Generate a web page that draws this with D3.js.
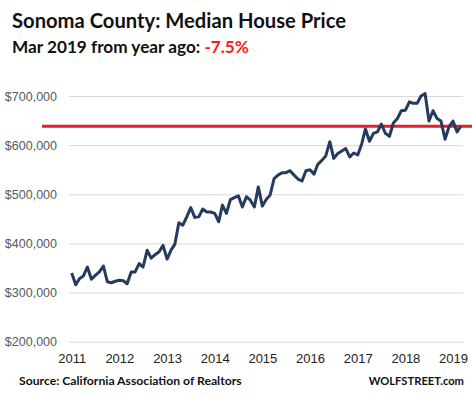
<!DOCTYPE html>
<html>
<head>
<meta charset="utf-8">
<script src="https://cdn.jsdelivr.net/npm/d3@7"></script>
<style>
  body { margin: 0; background: #fff; }
  svg { display: block; font-family: Lato, "Liberation Sans", sans-serif; }
</style>
</head>
<body>
<svg></svg>
<script>
// monthly median price, Jan 2011 .. Mar 2019 (in $1000s)
var startYear = 2011;
var prices = [
  340, 316, 328, 334, 352, 327, 335, 342, 354, 322, 320, 323,   // 2011
  325, 324, 318, 342, 342, 359, 352, 386, 370, 377, 383, 396,   // 2012
  368, 387, 398, 442, 437, 454, 473, 453, 454, 470, 464, 464,   // 2013
  461, 444, 478, 461, 489, 493, 497, 474, 495, 488, 474, 515,   // 2014
  476, 490, 498, 532, 539, 544, 544, 548, 539, 531, 527, 548,   // 2015
  550, 541, 561, 569, 578, 607, 573, 583, 588, 593, 576, 584,   // 2016
  580, 603, 633, 608, 624, 627, 643, 624, 618, 645, 654, 670,   // 2017
  671, 688, 685, 685, 700, 705, 649, 670, 654, 649, 612, 637,   // 2018
  649, 627, 638                                                 // 2019
];
var yTicks = [200000, 300000, 400000, 500000, 600000, 700000];
var xTickYears = [2011, 2012, 2013, 2014, 2015, 2016, 2017, 2018, 2019];
var latestPrice = 638400; // Mar 2019 level, the red line

var svgWidth = 472, svgHeight = 396;
var plotLeft = 69, plotRight = 463, plotTop = 96, plotBottom = 341.7;

var svg = d3.select("svg")
    .attr("width", svgWidth)
    .attr("height", svgHeight);

var data = prices.map(function(p, i) {
    return { date: new Date(startYear, i, 1), value: p * 1000 };
});

// first data point sits right on the 2011 label
var x = d3.scaleTime()
    .domain([new Date(2011, 0, 1), new Date(2019, 0, 1)])
    .range([71.7, 453]);

var y = d3.scaleLinear()
    .domain([200000, 700000])
    .range([plotBottom, plotTop]);

// y axis + gridlines in one go
var yAxis = svg.append("g")
    .attr("transform", "translate(" + plotLeft + ",0)")
    .call(d3.axisLeft(y)
        .tickValues(yTicks)
        .tickFormat(d3.format("$,"))
        .tickSize(-(plotRight - plotLeft))
        .tickPadding(12));
yAxis.select(".domain").remove();
yAxis.selectAll(".tick line").attr("stroke", "#d9d9d9");
yAxis.selectAll(".tick text")
    .attr("fill", "#595959")
    .style("font-size", "12.5px");

var xAxis = svg.append("g")
    .attr("transform", "translate(0," + plotBottom + ")")
    .call(d3.axisBottom(x)
        .tickValues(xTickYears.map(function(yr) { return new Date(yr, 0, 1); }))
        .tickFormat(d3.timeFormat("%Y"))
        .tickSize(0)
        .tickPadding(12));
xAxis.select(".domain").remove();
xAxis.selectAll(".tick text")
    .attr("fill", "#222")
    .style("font-size", "13px");

// red line = current level, runs past the axis on the left
svg.append("line")
    .attr("x1", 42)
    .attr("x2", svgWidth)
    .attr("y1", y(latestPrice))
    .attr("y2", y(latestPrice))
    .attr("stroke", "#e3202a")
    .attr("stroke-width", 3);

var line = d3.line()
    .x(function(d) { return x(d.date); })
    .y(function(d) { return y(d.value); });

svg.append("path")
    .datum(data)
    .attr("d", line)
    .attr("fill", "none")
    .attr("stroke", "#243b5e")
    .attr("stroke-width", 3)
    .attr("stroke-linejoin", "round");

// titles
svg.append("text")
    .attr("x", 12)
    .attr("y", 28)
    .attr("font-weight", "bold")
    .style("font-size", "20.2px")
    .attr("fill", "#111")
    .text("Sonoma County: Median House Price");

var sub = svg.append("text")
    .attr("x", 12)
    .attr("y", 53)
    .attr("font-weight", "bold")
    .style("font-size", "17.2px")
    .attr("fill", "#111");
sub.append("tspan").text("Mar 2019 from year ago: ");
sub.append("tspan").attr("fill", "#ff1a1a").text("-7.5%");

// footer
svg.append("text")
    .attr("x", 19)
    .attr("y", 385)
    .attr("font-weight", "bold")
    .style("font-size", "12.2px")
    .attr("fill", "#111")
    .text("Source: California Association of Realtors");

svg.append("text")
    .attr("x", 464)
    .attr("y", 385)
    .attr("text-anchor", "end")
    .attr("font-weight", "bold")
    .style("font-size", "11.2px")
    .attr("fill", "#111")
    .text("WOLFSTREET.com");
</script>
</body>
</html>
